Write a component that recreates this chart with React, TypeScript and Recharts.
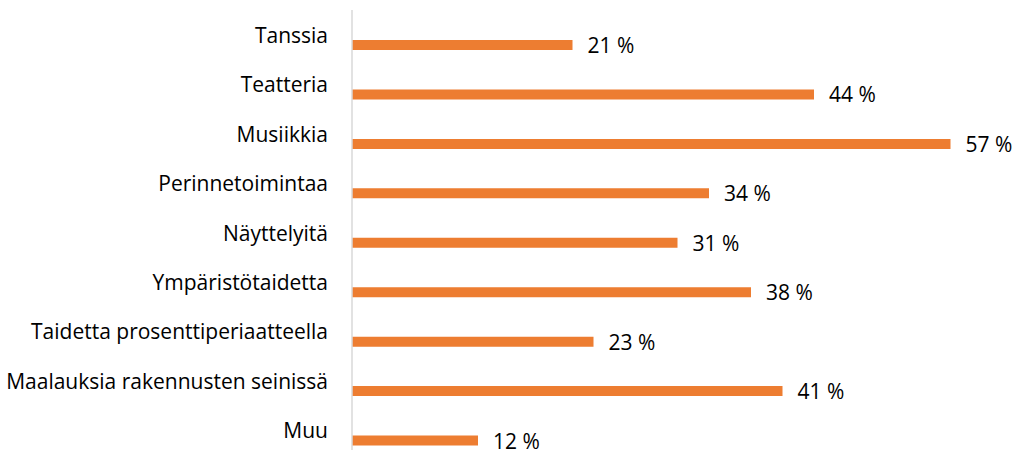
import React from 'react';
import { BarChart, Bar, XAxis, YAxis, LabelList } from 'recharts';

const categories = [
  'Tanssia',
  'Teatteria',
  'Musiikkia',
  'Perinnetoimintaa',
  'Näyttelyitä',
  'Ympäristötaidetta',
  'Taidetta prosenttiperiaatteella',
  'Maalauksia rakennusten seinissä',
  'Muu',
];
const shares = [21, 44, 57, 34, 31, 38, 23, 41, 12];

const chartData = categories.map((name, i) => ({ name, value: shares[i] }));

const FONT = '"Open Sans", sans-serif';

const CategoryTick = ({ x, y, payload }: any) => (
  <text x={x} y={y} dy={-2} textAnchor="end" fill="#000" fontSize={21} fontFamily={FONT}>
    {payload.value}
  </text>
);

const ValueLabel = ({ x, y, width, height, value }: any) => (
  <text
    x={x + width + 15}
    y={y + height / 2}
    dy={8}
    textAnchor="start"
    fill="#000"
    fontSize={21}
    fontFamily={FONT}
  >
    {value} %
  </text>
);

export default function App() {
  return (
    <div style={{ position: 'absolute', left: 0, top: 0, width: 1019, height: 450, overflow: 'hidden', background: '#fff' }}>
      <BarChart
        width={1019}
        height={465}
        data={chartData}
        layout="vertical"
        margin={{ top: 10, right: 37, left: 0, bottom: 0 }}
      >
        <XAxis type="number" domain={[0, 60]} hide />
        <YAxis
          type="category"
          dataKey="name"
          width={352}
          padding={{ top: 10, bottom: 0 }}
          axisLine={{ stroke: '#D9D9D9', strokeWidth: 1.5 }}
          tickLine={false}
          tickSize={22}
          tick={<CategoryTick />}
          interval={0}
        />
        <Bar dataKey="value" fill="#ED7D31" barSize={10} isAnimationActive={false}>
          <LabelList dataKey="value" content={<ValueLabel />} />
        </Bar>
      </BarChart>
    </div>
  );
}
